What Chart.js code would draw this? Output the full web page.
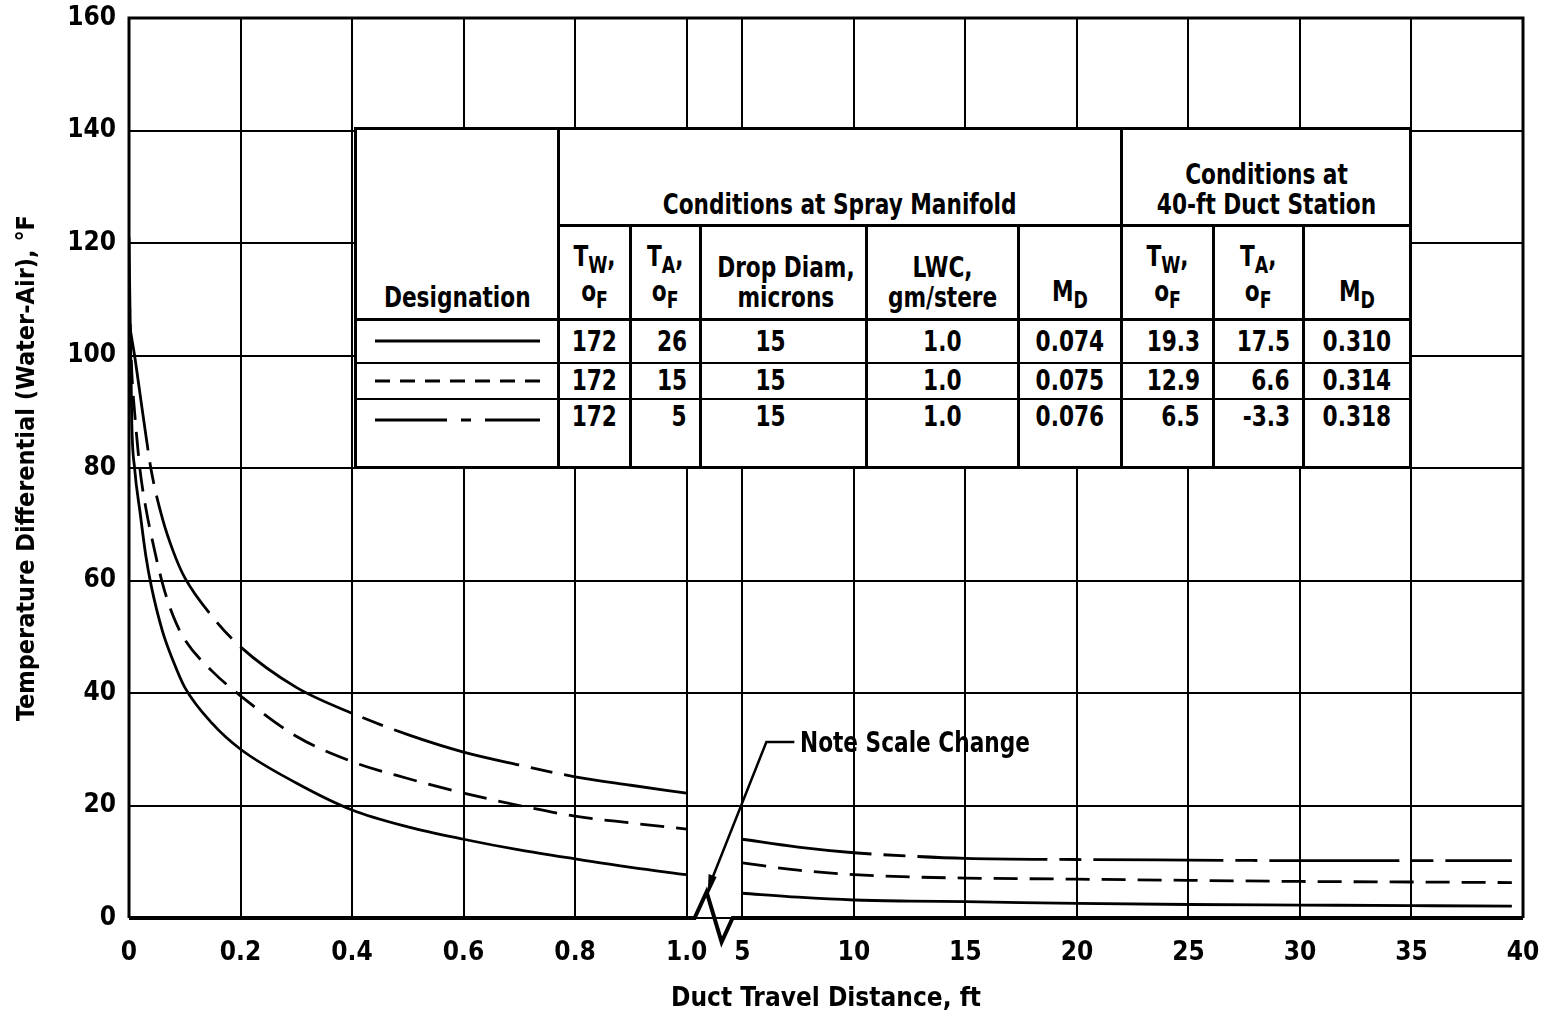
<!DOCTYPE html>
<html>
<head>
<meta charset="utf-8">
<script src="https://cdn.jsdelivr.net/npm/chart.js@4.4.0/dist/chart.umd.min.js"></script>
<style>
    body { margin: 0; background: #fff; }
    #wrap { position: relative; width: 1550px; height: 1019px; }
    #chart { position: absolute; left: 0; top: 0; }
    .lbl { font-family: "Liberation Sans Narrow", "DejaVu Sans Condensed", "Roboto Condensed", "Arial Narrow", sans-serif; font-weight: bold; color: #000; }
    .n { display: inline-block; transform: scaleX(0.86); transform-origin: center; }
    #tbl {
        position: absolute; left: 354px; top: 127px; width: 1055px; height: 339px;
        border-collapse: collapse; table-layout: fixed; background: #fff;
        font-size: 28px; line-height: 1.05;
    }
    #tbl td { border: 3px solid #000; padding: 0 4px; text-align: center; vertical-align: bottom; white-space: nowrap; }
    #tbl td.r { text-align: right; padding-right: 12px; }
    #tbl td.r .n { transform-origin: right; }
    #tbl .data td { vertical-align: middle; border-top: none; border-bottom: 2px solid #000; }
    #tbl .data.last td { vertical-align: top; border-bottom: 3px solid #000; padding-top: 2px; }
    #tbl .data.last td.d { padding-top: 17px; }
    #tbl sub { font-size: 0.8em; vertical-align: -0.3em; }
    #note { position: absolute; left: 800px; top: 726px; font-size: 28px; }
    #note .n { transform-origin: left; }
</style>
</head>
<body>
<div id="wrap">
    <canvas id="chart" width="1550" height="1019"></canvas>
    <table id="tbl" class="lbl"></table>
    <div id="note" class="lbl"><span class="n">Note Scale Change</span></div>
</div>
<script>
// Duct travel distance, ft (broken axis: 0-1.0 then 5-40)
const xLeft = [0, 0.005, 0.01, 0.02, 0.03, 0.04, 0.06, 0.08, 0.1, 0.15, 0.2, 0.3, 0.4, 0.5, 0.6, 0.7, 0.8, 0.9, 1.0];
const xRight = [5, 7.5, 10, 12.5, 15, 20, 25, 30, 35, 39.5];

// Temperature differential (water-air), deg F
const solidLeft = [121, 88, 80, 72, 64.5, 59, 51, 45.5, 41, 34.5, 30, 24, 19.2, 16.2, 14.0, 12.1, 10.5, 9.0, 7.7];
const dashedLeft = [112, 97, 90, 79.5, 73, 68, 59.5, 53.5, 49.5, 43.8, 39.5, 32.3, 27.8, 24.8, 22.2, 20.0, 18.1, 16.9, 15.8];
const dashDotLeft = [106, 103, 100, 93, 86, 79.5, 71, 65, 60.5, 53.5, 48.2, 41, 36.4, 32.6, 29.5, 27.2, 25.1, 23.6, 22.2];

const solidRight = [4.4, 3.7, 3.2, 3.0, 2.9, 2.6, 2.4, 2.3, 2.2, 2.1];
const dashedRight = [9.8, 8.5, 7.7, 7.3, 7.1, 6.9, 6.7, 6.5, 6.4, 6.3];
const dashDotRight = [14, 12.6, 11.6, 11.0, 10.6, 10.4, 10.3, 10.2, 10.2, 10.2];

const xTicks = [0, 0.2, 0.4, 0.6, 0.8, 1.0, 5, 10, 15, 20, 25, 30, 35, 40];
const xTickLabels = ['0', '0.2', '0.4', '0.6', '0.8', '1.0', '5', '10', '15', '20', '25', '30', '35', '40'];

// Table
const designation = ['solid', 'dashed', 'dashdot'];
const twSpray = ['172', '172', '172'];
const taSpray = ['26', '15', '5'];
const dropDiam = ['15', '15', '15'];
const lwc = ['1.0', '1.0', '1.0'];
const mdSpray = ['0.074', '0.075', '0.076'];
const twDuct = ['19.3', '12.9', '6.5'];
const taDuct = ['17.5', '6.6', '-3.3'];
const mdDuct = ['0.310', '0.314', '0.318'];

const FONT = '"Liberation Sans Narrow", "DejaVu Sans Condensed", "Roboto Condensed", "Arial Narrow", sans-serif';
const DASH = [24, 12];
const DASHDOT = [130, 12, 22, 12];

// map distance to a position on the broken axis
function toU(x) {
    return x <= 1 ? x * 5 : 5.5 + (x - 5) / 5;
}

function series(left, right) {
    const pts = xLeft.map((x, i) => ({ x: toU(x), y: left[i] }));
    pts.push({ x: 5.25, y: null });
    return pts.concat(xRight.map((x, i) => ({ x: toU(x), y: right[i] })));
}

function n(t) {
    return '<span class="n">' + t + '</span>';
}

function buildTable() {
    const tbl = document.getElementById('tbl');
    const widths = [203, 72, 70, 166, 152, 103, 92, 90, 107];
    let html = '<colgroup>' + widths.map(w => '<col style="width:' + w + 'px">').join('') + '</colgroup>';
    html += '<tr style="height:97px"><td rowspan="2" style="padding-bottom:6px">' + n('Designation') + '</td>' +
        '<td colspan="5" style="padding-bottom:5px">' + n('Conditions at Spray Manifold') + '</td>' +
        '<td colspan="3" style="padding-bottom:5px">' + n('Conditions at<br>40-ft Duct Station') + '</td></tr>';
    const tf = 'T<sub>W</sub>,<br>o<sub>F</sub>';
    const ta = 'T<sub>A</sub>,<br>o<sub>F</sub>';
    const md = 'M<sub>D</sub>';
    html += '<tr style="height:94px">' +
        [tf, ta, 'Drop Diam,<br>microns', 'LWC,<br>gm/stere', md, tf, ta, md]
            .map(t => '<td style="padding-bottom:6px">' + n(t) + '</td>').join('') + '</tr>';
    const dashes = { solid: 'none', dashed: '15 10', dashdot: '72 14 10 14' };
    const heights = [43, 36, 69];
    designation.forEach((d, i) => {
        const svg = '<svg width="165" height="6" style="display:block;margin:0 auto"><line x1="0" y1="3" x2="165" y2="3" stroke="#000" stroke-width="3" stroke-dasharray="' + dashes[d] + '"/></svg>';
        html += '<tr class="data' + (i === 2 ? ' last' : '') + '" style="height:' + heights[i] + 'px">' +
            '<td class="d">' + svg + '</td>' +
            '<td>' + n(twSpray[i]) + '</td>' +
            '<td class="r">' + n(taSpray[i]) + '</td>' +
            '<td style="padding-right:30px">' + n(dropDiam[i]) + '</td>' +
            '<td>' + n(lwc[i]) + '</td>' +
            '<td>' + n(mdSpray[i]) + '</td>' +
            '<td class="r">' + n(twDuct[i]) + '</td>' +
            '<td class="r">' + n(taDuct[i]) + '</td>' +
            '<td>' + n(mdDuct[i]) + '</td></tr>';
    });
    tbl.innerHTML = html;
}

// frame, broken bottom axis and "scale change" pointer
const framePlugin = {
    id: 'frame',
    afterDatasetsDraw(chart) {
        const { ctx, chartArea: a, scales } = chart;
        const x1 = scales.x.getPixelForValue(toU(1.0));
        const x5 = scales.x.getPixelForValue(toU(5));
        const b = a.bottom;
        ctx.save();
        ctx.strokeStyle = '#000';
        ctx.lineJoin = 'miter';
        ctx.lineWidth = 3;
        ctx.beginPath();
        ctx.moveTo(a.left, b);
        ctx.lineTo(a.left, a.top);
        ctx.lineTo(a.right, a.top);
        ctx.lineTo(a.right, b);
        ctx.stroke();

        ctx.lineWidth = 4;
        ctx.beginPath();
        ctx.moveTo(a.left, b);
        ctx.lineTo(x1 + 8, b);
        ctx.lineTo(x1 + 20, b - 26);
        ctx.lineTo(x1 + 35, b + 24);
        ctx.lineTo(x1 + 46, b);
        ctx.lineTo(a.right, b);
        ctx.stroke();

        // leader to the note
        const yn = 742;
        const tipX = x1 + 21, tipY = b - 28;
        ctx.lineWidth = 2.5;
        ctx.beginPath();
        ctx.moveTo(x5 + 52, yn);
        ctx.lineTo(x5 + 24, yn);
        ctx.lineTo(tipX + 4, tipY - 10);
        ctx.stroke();
        ctx.beginPath();
        ctx.moveTo(tipX, tipY + 6);
        ctx.lineTo(tipX + 1, tipY - 16);
        ctx.lineTo(tipX + 9, tipY - 13);
        ctx.closePath();
        ctx.fillStyle = '#000';
        ctx.fill();
        ctx.restore();
    }
};

function lineSet(label, left, right, dash) {
    return {
        label: label,
        data: series(left, right),
        borderColor: '#000',
        borderWidth: 2.8,
        borderDash: dash,
        pointRadius: 0,
        cubicInterpolationMode: 'monotone',
        spanGaps: false,
        fill: false
    };
}

document.addEventListener('DOMContentLoaded', function() {
    buildTable();

    new Chart(document.getElementById('chart'), {
        type: 'line',
        data: {
            datasets: [
                lineSet('T_A = 26 F', solidLeft, solidRight, []),
                lineSet('T_A = 15 F', dashedLeft, dashedRight, DASH),
                lineSet('T_A = 5 F', dashDotLeft, dashDotRight, DASHDOT)
            ]
        },
        options: {
            responsive: false,
            animation: false,
            layout: { padding: { top: 18, right: 27, left: 0, bottom: 0 } },
            plugins: {
                legend: { display: false },
                tooltip: { enabled: false }
            },
            scales: {
                x: {
                    type: 'linear',
                    min: 0,
                    max: 12.5,
                    afterBuildTicks: function(scale) {
                        scale.ticks = xTicks.map(v => ({ value: toU(v) }));
                    },
                    afterFit: function(scale) {
                        scale.height = 101;
                        scale.paddingLeft = 0;
                        scale.paddingRight = 0;
                    },
                    grid: { color: '#000', lineWidth: 2, drawTicks: false },
                    border: { display: false },
                    ticks: {
                        autoSkip: false,
                        maxRotation: 0,
                        padding: 20,
                        color: '#000',
                        font: { family: FONT, size: 26, weight: 'bold' },
                        callback: function(value, index) { return xTickLabels[index]; }
                    },
                    title: {
                        display: true,
                        text: 'Duct Travel Distance, ft',
                        color: '#000',
                        padding: { top: 0, bottom: 4 },
                        font: { family: FONT, size: 26, weight: 'bold' }
                    }
                },
                y: {
                    min: 0,
                    max: 160,
                    afterFit: function(scale) {
                        scale.width = 129;
                        scale.paddingTop = 0;
                        scale.paddingBottom = 0;
                    },
                    grid: { color: '#000', lineWidth: 2, drawTicks: false },
                    border: { display: false },
                    ticks: {
                        stepSize: 20,
                        padding: 13,
                        color: '#000',
                        font: { family: FONT, size: 26, weight: 'bold' }
                    },
                    title: {
                        display: true,
                        text: 'Temperature Differential (Water-Air), °F',
                        color: '#000',
                        padding: { top: 12, bottom: 0 },
                        font: { family: FONT, size: 25, weight: 'bold' }
                    }
                }
            }
        },
        plugins: [framePlugin]
    });
});
</script>
</body>
</html>
